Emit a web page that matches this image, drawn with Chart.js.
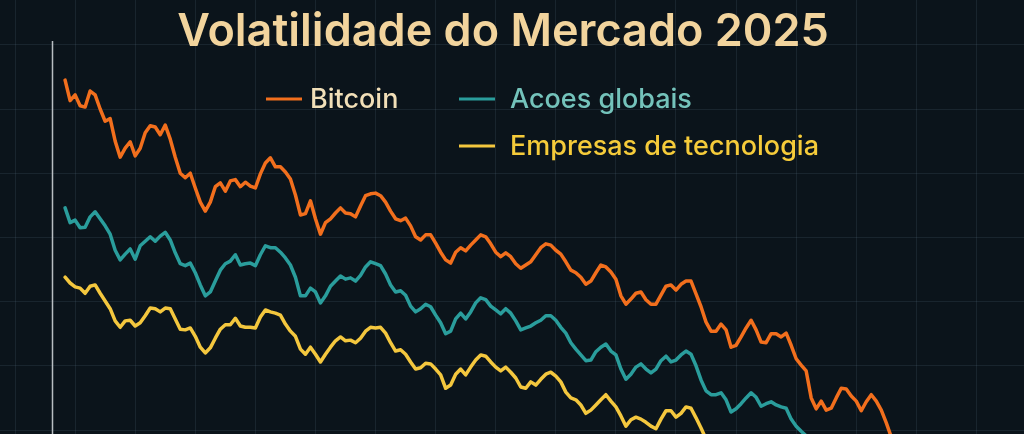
<!DOCTYPE html>
<html>
<head>
<meta charset="utf-8">
<script src="https://cdn.jsdelivr.net/npm/chart.js@4"></script>
<style>
  html, body { margin: 0; padding: 0; background: #0b141b; }
  #wrap { width: 1024px; height: 434px; }
</style>
</head>
<body>
<div id="wrap"><canvas id="chart" width="1024" height="434"></canvas></div>
<script>
/* ---------- DATA ---------- */
const titleText = "Volatilidade do Mercado 2025";
const seriesNames = ["Bitcoin", "Acoes globais", "Empresas de tecnologia"];
const firstDay = 10;

// volatility index, one value per trading day
const bitcoin = [
  64.5, 61.3, 62.2, 60.5, 60.3, 62.8, 62.2, 60.0, 58.1, 58.5,
  55.0, 52.5, 53.9, 54.9, 52.7, 53.9, 56.3, 57.4, 57.2, 56.0,
  57.5, 55.3, 52.5, 50.0, 49.3, 50.0, 47.7, 45.5, 44.1, 45.5,
  47.9, 48.5, 47.2, 48.8, 49.0, 47.9, 48.6, 48.0, 47.7, 49.9,
  51.6, 52.4, 51.0, 51.0, 50.2, 49.1, 46.6, 43.5, 43.7, 45.7,
  42.9, 40.5, 42.3, 42.9, 43.8, 44.6, 43.8, 43.7, 43.2, 44.9,
  46.5, 46.8, 46.9, 46.5, 45.5, 44.1, 42.9, 42.6, 43.0, 41.8,
  40.1, 39.6, 40.4, 40.4, 39.1, 37.7, 36.5, 36.0, 37.7, 38.4,
  37.9, 38.8, 39.6, 40.4, 40.1, 39.0, 37.7, 37.0, 37.6, 37.0,
  35.9, 35.2, 35.7, 36.2, 37.3, 38.4, 39.0, 38.8, 38.0, 37.4,
  36.2, 34.9, 34.5, 33.8, 32.7, 33.2, 34.5, 35.7, 35.4, 34.6,
  33.5, 30.9, 29.6, 30.4, 31.3, 31.5, 30.3, 29.6, 29.6, 31.0,
  32.4, 32.6, 31.8, 32.7, 33.2, 33.2, 31.2, 29.2, 26.8, 25.4,
  25.4, 26.5, 25.6, 22.9, 23.2, 24.5, 25.9, 27.1, 25.6, 23.7,
  23.6, 25.0, 25.0, 24.5, 25.1, 23.2, 21.1, 20.1, 19.2, 15.0,
  13.3, 14.5, 13.1, 13.4, 15.0, 16.5, 16.4, 15.3, 14.5, 13.0,
  14.4, 15.5, 14.5, 13.1, 11.1, 8.9, 6.9
];

const acoesGlobais = [
  44.6, 42.3, 42.7, 41.5, 41.6, 43.2, 44.0, 42.9, 41.8, 40.5,
  38.0, 36.5, 37.4, 38.2, 36.6, 38.7, 39.4, 40.1, 39.4, 40.2,
  40.8, 39.6, 37.6, 35.9, 35.6, 36.0, 34.5, 32.6, 30.9, 31.5,
  33.2, 34.9, 35.9, 36.3, 37.3, 35.7, 35.9, 36.0, 35.6, 37.3,
  38.7, 38.4, 38.4, 37.7, 36.8, 35.7, 33.8, 30.9, 30.9, 32.1,
  31.5, 29.8, 30.9, 32.4, 33.2, 34.0, 33.5, 33.7, 33.2, 34.1,
  35.4, 36.2, 35.9, 35.6, 34.3, 32.6, 31.5, 31.7, 31.0, 29.3,
  28.4, 28.9, 29.6, 29.2, 27.9, 26.7, 25.0, 25.4, 27.3, 28.2,
  27.3, 28.4, 29.8, 30.6, 30.3, 29.3, 28.7, 28.1, 28.9, 28.2,
  27.0, 25.6, 25.9, 26.2, 26.7, 27.1, 27.8, 27.8, 27.1, 26.0,
  25.1, 23.6, 22.6, 21.7, 20.8, 20.9, 22.2, 22.9, 23.4, 22.3,
  21.7, 19.5, 17.9, 18.7, 19.8, 20.3, 19.5, 18.9, 19.5, 20.8,
  21.5, 20.6, 20.9, 21.7, 22.3, 21.8, 20.0, 17.8, 16.1, 15.5,
  15.5, 15.8, 14.7, 12.8, 13.3, 14.1, 15.0, 15.8, 15.1, 13.7,
  14.1, 14.4, 13.9, 13.6, 13.4, 11.7, 10.6, 9.8, 9.1, 7.7
];

const empresasTecnologia = [
  33.8, 32.9, 32.3, 32.1, 31.3, 32.4, 32.6, 31.3, 30.1, 28.9,
  27.0, 26.0, 27.0, 27.1, 26.2, 26.7, 27.8, 29.0, 28.9, 28.4,
  29.0, 28.9, 27.3, 25.7, 25.6, 25.9, 24.6, 22.9, 22.0, 22.8,
  24.3, 25.7, 26.4, 26.4, 27.4, 26.2, 26.0, 26.0, 25.9, 27.6,
  28.7, 28.4, 28.2, 27.9, 26.5, 25.4, 24.6, 22.6, 21.8, 22.9,
  21.8, 20.6, 21.8, 22.9, 23.9, 24.5, 23.9, 24.0, 23.6, 24.3,
  25.4, 26.0, 25.9, 26.0, 25.1, 23.6, 22.3, 22.5, 21.8, 20.6,
  19.5, 19.7, 20.4, 20.3, 19.5, 18.6, 16.5, 17.0, 18.7, 19.5,
  18.6, 19.8, 20.9, 21.7, 21.5, 20.6, 19.8, 19.2, 19.8, 19.0,
  18.1, 16.7, 16.5, 17.5, 17.0, 17.9, 18.7, 19.0, 18.4, 17.5,
  15.9, 15.0, 14.7, 13.9, 12.6, 13.1, 13.9, 14.7, 15.5, 14.5,
  13.6, 12.2, 10.6, 11.6, 12.0, 11.7, 11.2, 10.6, 10.2, 11.7,
  13.0, 13.0, 12.0, 12.6, 13.6, 13.4, 11.9, 10.3, 8.6, 6.9
];

const lineColors = ["#f26f1d", "#2a9d9c", "#f4c73e"];
const legendTextColors = ["#f1dfb8", "#74c3bb", "#f5cb3a"];

/* ---------- SCALES ---------- */
const xMin = -3, xMax = 201.5, xStep = 12;     // days
const yMin = 9.38, yMax = 76.98, yStep = 10;   // index points
const axisDay = 7.4;

const days = bitcoin.map((_, i) => firstDay + i);
const toPoints = arr => arr.map((v, i) => ({ x: days[i], y: v }));

/* ---------- TITLE / LEGEND / AXIS ---------- */
const decorPlugin = {
  id: "decor",
  afterDatasetsDraw(chart) {
    const ctx = chart.ctx;
    const xs = chart.scales.x;

    // vertical axis line
    ctx.save();
    ctx.strokeStyle = "#b9bec2";
    ctx.lineWidth = 1.5;
    const ax = Math.round(xs.getPixelForValue(axisDay)) + 0.5;
    ctx.beginPath();
    ctx.moveTo(ax, 41);
    ctx.lineTo(ax, chart.height);
    ctx.stroke();

    // title
    ctx.fillStyle = "#f2d49d";
    ctx.font = "600 45px Inter";
    ctx.textAlign = "center";
    ctx.textBaseline = "alphabetic";
    ctx.fillText(titleText, 503, 46);

    // legend
    const items = [
      { x: 266, y: 99, tx: 310, ty: 108 },
      { x: 459, y: 99, tx: 510, ty: 108 },
      { x: 459, y: 146, tx: 510, ty: 155 }
    ];
    ctx.font = "500 27px Inter";
    ctx.textAlign = "left";
    chart.data.datasets.forEach((ds, i) => {
      const it = items[i];
      ctx.strokeStyle = ds.borderColor;
      ctx.lineWidth = 3;
      ctx.beginPath();
      ctx.moveTo(it.x, it.y);
      ctx.lineTo(it.x + 36, it.y);
      ctx.stroke();
      ctx.fillStyle = legendTextColors[i];
      ctx.fillText(ds.label, it.tx, it.ty);
    });
    ctx.restore();
  }
};

/* ---------- CHART ---------- */
const gridColor = "rgba(110, 140, 160, 0.14)";

new Chart(document.getElementById("chart"), {
  type: "line",
  data: {
    datasets: [bitcoin, acoesGlobais, empresasTecnologia].map((arr, i) => ({
      label: seriesNames[i],
      data: toPoints(arr),
      borderColor: lineColors[i],
      backgroundColor: lineColors[i],
      borderWidth: 3.5,
      pointRadius: 0,
      tension: 0,
      borderJoinStyle: "round",
      borderCapStyle: "round"
    }))
  },
  options: {
    responsive: false,
    animation: false,
    layout: { padding: 0 },
    plugins: {
      legend: { display: false },
      title: { display: false },
      tooltip: { enabled: false }
    },
    scales: {
      x: {
        type: "linear",
        min: xMin,
        max: xMax,
        ticks: { display: false, stepSize: xStep, includeBounds: false },
        grid: { color: gridColor, drawTicks: false, lineWidth: 1 },
        border: { display: false }
      },
      y: {
        type: "linear",
        min: yMin,
        max: yMax,
        ticks: { display: false, stepSize: yStep, includeBounds: false },
        grid: { color: gridColor, drawTicks: false, lineWidth: 1 },
        border: { display: false }
      }
    }
  },
  plugins: [decorPlugin]
});
</script>
</body>
</html>
